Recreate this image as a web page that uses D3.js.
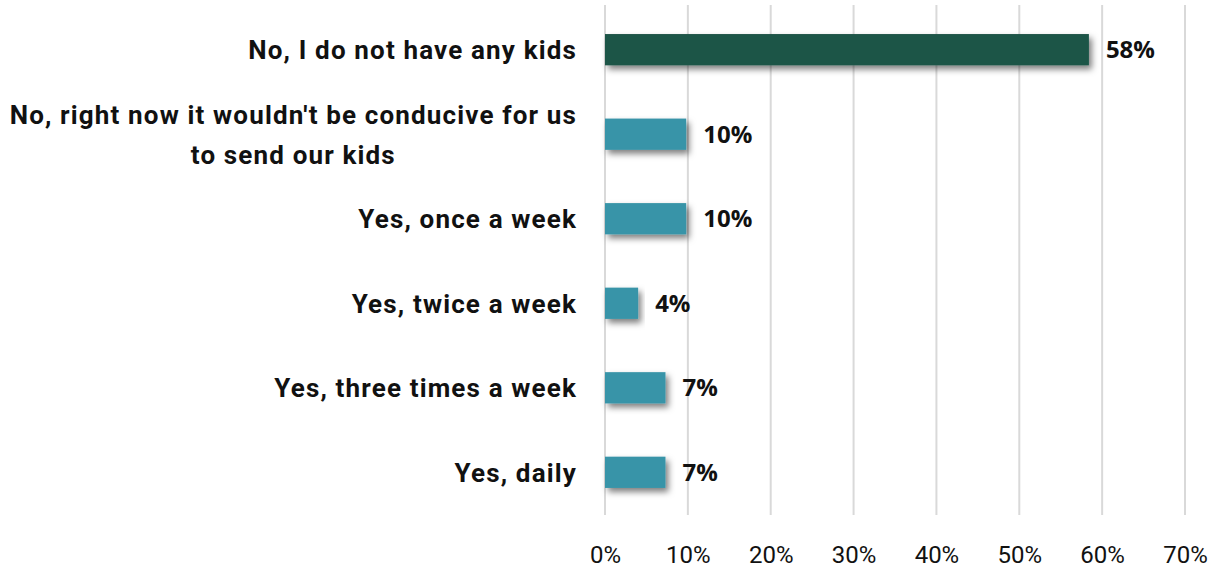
<!DOCTYPE html>
<html>
<head>
<meta charset="utf-8">
<script src="https://cdn.jsdelivr.net/npm/d3@7"></script>
<style>
  body { margin: 0; background: #fff; }
  svg { display: block; }
</style>
</head>
<body>
<div id="chart"></div>
<script>
const categories = [
  ['No, I do not have any kids'],
  ["No, right now it wouldn't be conducive for us", 'to send our kids'],
  ['Yes, once a week'],
  ['Yes, twice a week'],
  ['Yes, three times a week'],
  ['Yes, daily']
];
const values = [58.4, 9.8, 9.8, 4.0, 7.3, 7.3];
const valueLabels = ['58%', '10%', '10%', '4%', '7%', '7%'];
const xTicks = [0, 10, 20, 30, 40, 50, 60, 70];
const barColors = ['#1c5446', '#3994a8', '#3994a8', '#3994a8', '#3994a8', '#3994a8'];

const width = 1218;
const height = 572;
const margin = { top: 7, right: 33, bottom: 57, left: 605 };

const svg = d3.select('#chart')
  .append('svg')
  .attr('width', width)
  .attr('height', height);

// shadow under the bars
const defs = svg.append('defs');
defs.append('filter')
  .attr('id', 'shadow')
  .attr('x', '-10%').attr('y', '-30%')
  .attr('width', '130%').attr('height', '190%')
  .append('feDropShadow')
  .attr('dx', 3).attr('dy', 4)
  .attr('stdDeviation', 3)
  .attr('flood-color', '#000')
  .attr('flood-opacity', 0.5);

const xScale = d3.scaleLinear()
  .domain([0, 70])
  .range([margin.left, width - margin.right]);

const yScale = d3.scaleBand()
  .domain(d3.range(categories.length))
  .range([margin.top, height - margin.bottom])
  .paddingInner(0.63)
  .paddingOuter(0.32);

// vertical gridlines
svg.append('g')
  .attr('class', 'grid')
  .selectAll('line')
  .data(xTicks)
  .join('line')
  .attr('x1', d => xScale(d))
  .attr('x2', d => xScale(d))
  .attr('y1', 5)
  .attr('y2', height - margin.bottom)
  .attr('stroke', '#d9d9d9')
  .attr('stroke-width', 2);

// x axis labels
const xAxis = d3.axisBottom(xScale)
  .tickValues(xTicks)
  .tickFormat(d => d + '%')
  .tickSize(0)
  .tickPadding(31);

const gx = svg.append('g')
  .attr('transform', `translate(0, ${height - margin.bottom})`)
  .call(xAxis);
gx.select('.domain').remove();
gx.selectAll('text')
  .attr('font-family', 'Roboto')
  .attr('font-size', 24)
  .attr('fill', '#111');

// bars
svg.append('g')
  .selectAll('rect')
  .data(values)
  .join('rect')
  .attr('x', xScale(0))
  .attr('y', (d, i) => yScale(i))
  .attr('width', d => xScale(d) - xScale(0))
  .attr('height', yScale.bandwidth())
  .attr('fill', (d, i) => barColors[i])
  .attr('filter', 'url(#shadow)');

// value labels
svg.append('g')
  .selectAll('text')
  .data(values)
  .join('text')
  .attr('x', d => xScale(d) + 17)
  .attr('y', (d, i) => yScale(i) + yScale.bandwidth() / 2)
  .attr('dy', '0.36em')
  .attr('font-family', 'Open Sans')
  .attr('font-weight', 'bold')
  .attr('font-size', 24)
  .attr('fill', '#111')
  .text((d, i) => valueLabels[i]);

// category labels: block right aligned, lines centred in the block
const labelRight = 577;
const lineHeight = 40;
const catG = svg.append('g');
categories.forEach((lines, i) => {
  const cy = yScale(i) + yScale.bandwidth() / 2;
  const g = catG.append('g');
  const texts = lines.map((line, j) =>
    g.append('text')
      .attr('font-family', 'Roboto')
      .attr('font-weight', 'bold')
      .attr('font-size', 26)
      .attr('letter-spacing', 1.15)
      .attr('fill', '#111')
      .attr('text-anchor', 'middle')
      .attr('y', cy + (j - (lines.length - 1) / 2) * lineHeight)
      .attr('dy', '0.36em')
      .text(line)
  );
  const blockW = d3.max(texts, t => t.node().getComputedTextLength());
  texts.forEach(t => t.attr('x', labelRight - blockW / 2));
});
</script>
</body>
</html>
